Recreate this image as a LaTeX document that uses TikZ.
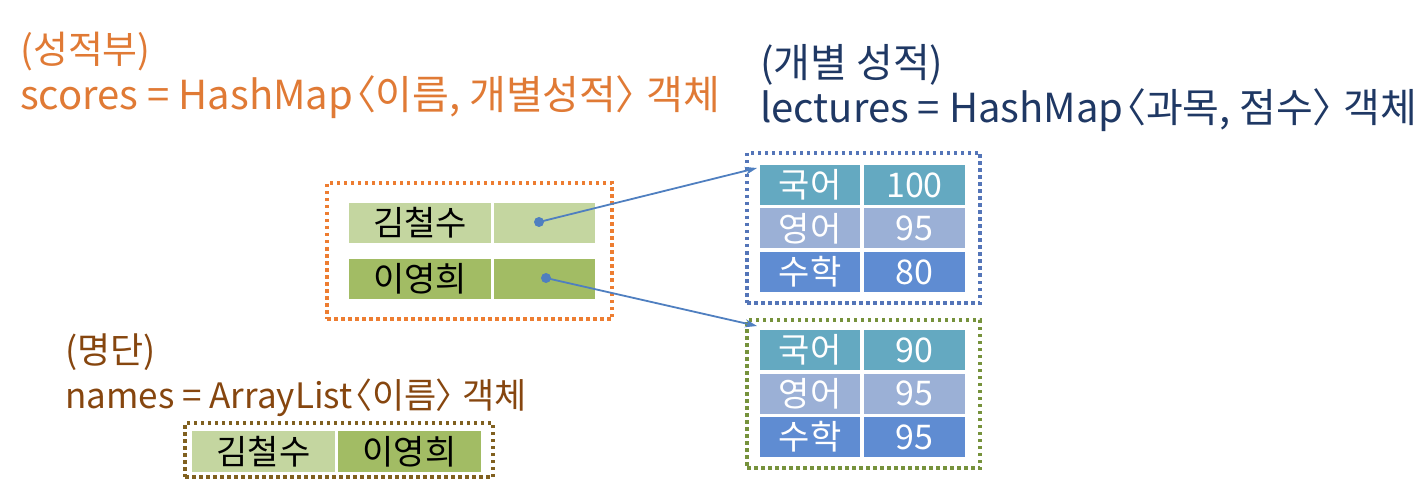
\documentclass[tikz,border=0pt]{standalone}
\usepackage{fontspec}
\setmainfont{Noto Sans CJK KR}
\usetikzlibrary{arrows.meta}
\newcommand{\lbr}{\kern-0.42em〈\kern-0.02em}
\newcommand{\rbr}{\kern-0.02em〉\kern-0.45em}
\newcommand{\fs}[1]{\fontsize{#1}{#1}\selectfont}
\definecolor{ttlorange}{HTML}{E07A35}
\definecolor{ttlnavy}{HTML}{1F3864}
\definecolor{ttlbrown}{HTML}{86460F}
\definecolor{bxorange}{HTML}{ED7D31}
\definecolor{bxblue}{HTML}{5475B8}
\definecolor{bxgreen}{HTML}{76923C}
\definecolor{bxbrown}{HTML}{806020}
\definecolor{glight}{HTML}{C4D6A0}
\definecolor{gdark}{HTML}{A2BC64}
\definecolor{cteal}{HTML}{64A9C1}
\definecolor{clblue}{HTML}{9BB0D6}
\definecolor{cblue}{HTML}{5F8CD2}
\definecolor{arrblue}{HTML}{4F7FC0}
\begin{document}
\begin{tikzpicture}[x=1pt,y=-1pt,
  ttl/.style={anchor=base west,inner sep=0pt},
  dotbox/.style={draw=#1,line width=3.5pt,dash pattern=on 3.5pt off 3.5pt,inner sep=0pt},
  cell/.style={fill=#1,inner sep=0pt,minimum height=40pt,font=\fs{34}},
  dot/.style={circle,fill=arrblue,inner sep=0pt,minimum size=10pt},
  link/.style={draw=arrblue,line width=1.8pt,-{Stealth[length=12pt,width=8pt]}}
]
\useasboundingbox (0,0) rectangle (1422,481);
% titles
\node[ttl,text=ttlorange,font=\fs{38}] (t1a) at (20,64) {(성적부)};
\node[ttl,text=ttlorange,font=\fs{40}] (t1b) at (20,110) {scores = HashMap\lbr 이름, 개별성적\rbr\ 객체};
\node[ttl,text=ttlnavy,font=\fs{40}] (t2a) at (760,78) {(개별 성적)};
\node[ttl,text=ttlnavy,font=\fs{40}] (t2b) at (760,123) {lectures = HashMap\lbr 과목, 점수\rbr\ 객체};
\node[ttl,text=ttlbrown,font=\fs{36}] (t3a) at (65,363) {(명단)};
\node[ttl,text=ttlbrown,font=\fs{35}] (t3b) at (65,408) {names = ArrayList\lbr 이름\rbr\ 객체};
% scores box
\node[dotbox=bxorange,minimum width=285pt,minimum height=136pt] (sbox) at (469.5,251) {};
\node[cell=glight,minimum width=142pt] (k1) at (420,223) {김철수};
\node[cell=glight,minimum width=101pt] (k1v) at (544.5,223) {};
\node[cell=gdark,minimum width=142pt] (k2) at (420,279) {이영희};
\node[cell=gdark,minimum width=101pt] (k2v) at (544.5,279) {};
\node[dot] (d1) at (539,222) {};
\node[dot] (d2) at (546,278) {};
% lectures 1
\node[dotbox=bxblue,minimum width=233pt,minimum height=150pt] (lbox1) at (863.5,228) {};
\node[cell=cteal,minimum width=100pt,text=white] (a1) at (810,185) {국어};
\node[cell=cteal,minimum width=101pt,text=white] (a1v) at (914.5,185) {100};
\node[cell=clblue,minimum width=100pt,text=white] (a2) at (810,228.5) {영어};
\node[cell=clblue,minimum width=101pt,text=white] (a2v) at (914.5,228.5) {95};
\node[cell=cblue,minimum width=100pt,text=white] (a3) at (810,272) {수학};
\node[cell=cblue,minimum width=101pt,text=white] (a3v) at (914.5,272) {80};
% lectures 2
\node[dotbox=bxgreen,minimum width=233pt,minimum height=148pt] (lbox2) at (863.5,394) {};
\node[cell=cteal,minimum width=100pt,text=white] (b1) at (810,350) {국어};
\node[cell=cteal,minimum width=101pt,text=white] (b1v) at (914.5,350) {90};
\node[cell=clblue,minimum width=100pt,text=white] (b2) at (810,393.5) {영어};
\node[cell=clblue,minimum width=101pt,text=white] (b2v) at (914.5,393.5) {95};
\node[cell=cblue,minimum width=100pt,text=white] (b3) at (810,437) {수학};
\node[cell=cblue,minimum width=101pt,text=white] (b3v) at (914.5,437) {95};
% names
\node[dotbox=bxbrown,minimum width=308pt,minimum height=54pt] (nbox) at (339,450) {};
\node[cell=glight,minimum width=143pt,minimum height=41pt] (n1) at (263.5,451.5) {김철수};
\node[cell=gdark,minimum width=143pt,minimum height=41pt] (n2) at (409.5,451.5) {이영희};
% arrows
\coordinate (e1) at (757,168);
\coordinate (e2) at (757,326);
\draw[link] (d1.center) -- (e1);
\draw[link] (d2.center) -- (e2);
\end{tikzpicture}
\end{document}
